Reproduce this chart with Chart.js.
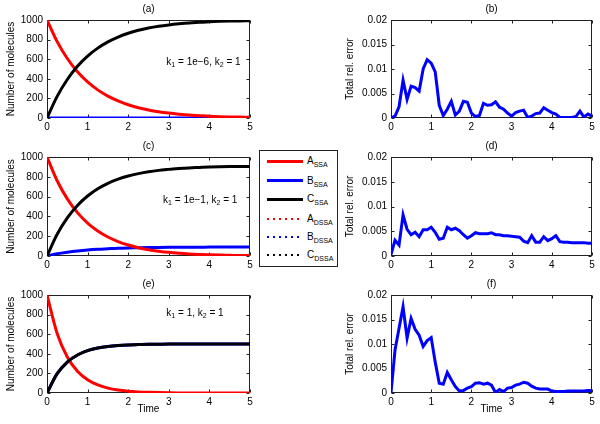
<!DOCTYPE html>
<html>
<head>
<meta charset="utf-8">
<script src="https://cdn.jsdelivr.net/npm/chart.js@4"></script>
<style>
body { margin: 0; background: #fff; width: 600px; height: 424px; overflow: hidden; position: relative; font-family: "Liberation Sans", Arial, sans-serif; }
canvas { position: absolute; }
#legend { position: absolute; left: 259px; top: 150px; width: 77px; height: 115px; border: 1px solid #222; background: #fff; }
.item { position: absolute; left: 7px; height: 14px; width: 70px; font-size: 10px; line-height: 14px; }
.item .line { position: absolute; left: 0; width: 36px; }
.item .lbl { position: absolute; left: 40px; top: 0; white-space: nowrap; color: #000; }
.item sub { font-size: 7px; vertical-align: -3px; line-height: 0; }
</style>
</head>
<body>
<canvas id="pa" width="260" height="138" style="left:0px;top:0px"></canvas>
<canvas id="pb" width="260" height="138" style="left:340px;top:0px"></canvas>
<canvas id="pc" width="260" height="139" style="left:0px;top:137px"></canvas>
<canvas id="pd" width="260" height="139" style="left:340px;top:137px"></canvas>
<canvas id="pe" width="260" height="149" style="left:0px;top:275px"></canvas>
<canvas id="pf" width="260" height="149" style="left:340px;top:275px"></canvas>
<div id="legend"></div>
<script>
// time grids
const tCurve = [0, 0.25, 0.5, 0.75, 1, 1.25, 1.5, 1.75, 2, 2.25, 2.5, 2.75, 3, 3.25, 3.5, 3.75, 4, 4.25, 4.5, 4.75, 5]
const tErr = [0, 0.1, 0.2, 0.3, 0.4, 0.5, 0.6, 0.7, 0.8, 0.9,
    1, 1.1, 1.2, 1.3, 1.4, 1.5, 1.6, 1.7, 1.8, 1.9,
    2, 2.1, 2.2, 2.3, 2.4, 2.5, 2.6, 2.7, 2.8, 2.9,
    3, 3.1, 3.2, 3.3, 3.4, 3.5, 3.6, 3.7, 3.8, 3.9,
    4, 4.1, 4.2, 4.3, 4.4, 4.5, 4.6, 4.7, 4.8, 4.9, 5]

// (a) k1 = 1e-6, k2 = 1
const a_A = [1000, 779, 607, 472, 368, 287, 223, 174, 135, 105, 82, 64, 50, 39, 30, 24, 18, 14, 11, 9, 7]
const a_B = [0, 0, 0, 0, 0, 0, 0, 0, 0, 0, 0, 0, 0, 0, 0, 0, 0, 0, 0, 0, 0]
const a_C = [0, 221, 393, 528, 632, 713, 777, 826, 865, 895, 918, 936, 950, 961, 970, 976, 982, 986, 989, 991, 993]

// (c) k1 = 1e-1, k2 = 1
const c_A = [1000, 760, 577, 438, 333, 253, 192, 146, 111, 84, 64, 49, 37, 28, 21, 16, 12, 9, 7, 5, 4]
const c_B = [0, 22, 38, 51, 61, 68, 73, 78, 81, 83, 85, 87, 88, 88, 89, 89, 90, 90, 90, 91, 91]
const c_C = [0, 219, 385, 511, 606, 679, 734, 776, 808, 832, 851, 865, 875, 884, 890, 894, 898, 901, 903, 904, 905]

// (e) k1 = 1, k2 = 1
const e_A = [1000, 607, 368, 223, 135, 82, 50, 30, 18, 11, 7, 4, 2, 1, 1, 1, 0, 0, 0, 0, 0]
const e_B = [0, 197, 316, 388, 432, 459, 475, 485, 491, 494, 497, 498, 499, 499, 500, 500, 500, 500, 500, 500, 500]
const e_C = [0, 197, 316, 388, 432, 459, 475, 485, 491, 494, 497, 498, 499, 499, 500, 500, 500, 500, 500, 500, 500]

// total relative errors
const b_err = [0, 0.0004, 0.0023, 0.0077, 0.0038, 0.0065, 0.0062, 0.0055, 0.0100, 0.0119,
    0.0112, 0.0094, 0.0026, 0.0005, 0.0018, 0.0034, 0.0006, 0.0014, 0.0034, 0.0032,
    0.0010, 0.0003, 0.0005, 0.0030, 0.0026, 0.0027, 0.0033, 0.0022, 0.0018, 0.0010,
    0.0004, 0.0011, 0.0014, 0.0016, 0.0001, 0.0004, 0.0009, 0.0010, 0.0021, 0.0016,
    0.0011, 0.0008, 0.0001, 0.0001, 0.0001, 0.0001, 0.0003, 0.0014, 0.0002, 0.0008, 0.0004]
const d_err = [0.0003, 0.0032, 0.0022, 0.0083, 0.0054, 0.0043, 0.0048, 0.0039, 0.0053, 0.0053,
    0.0058, 0.0048, 0.0034, 0.0036, 0.0058, 0.0053, 0.0056, 0.0051, 0.0043, 0.0036,
    0.0041, 0.0047, 0.0045, 0.0045, 0.0045, 0.0047, 0.0043, 0.0043, 0.0041, 0.0041,
    0.0040, 0.0039, 0.0038, 0.0030, 0.0027, 0.0041, 0.0028, 0.0028, 0.0039, 0.0031,
    0.0035, 0.0041, 0.0029, 0.0028, 0.0028, 0.0027, 0.0027, 0.0027, 0.0027, 0.0026, 0.0026]
const f_err = [0, 0.0088, 0.0132, 0.0176, 0.0112, 0.0152, 0.0130, 0.0118, 0.0095, 0.0107,
    0.0113, 0.0063, 0.0020, 0.0018, 0.0042, 0.0027, 0.0013, 0.0004, 0.0005, 0.0010,
    0.0013, 0.0020, 0.0021, 0.0018, 0.0020, 0.0016, 0.0001, 0.0007, 0.0003, 0.0010,
    0.0011, 0.0016, 0.0018, 0.0022, 0.0020, 0.0014, 0.0010, 0.0008, 0.0008, 0.0008,
    0.0004, 0.0003, 0.0003, 0.0003, 0.0004, 0.0004, 0.0004, 0.0004, 0.0004, 0.0005, 0.0005]

// ticks
const timeTicks = [0, 1, 2, 3, 4, 5]
const countTicks = [0, 200, 400, 600, 800, 1000]
const errTicks = [0, 0.005, 0.01, 0.015, 0.02]

// legend
const legendNames = ['A', 'B', 'C', 'A', 'B', 'C']
const legendSubs = ['SSA', 'SSA', 'SSA', 'DSSA', 'DSSA', 'DSSA']

const RED = '#ff0000', BLUE = '#0000ff', BLACK = '#000000'
const FONT = '"Liberation Sans", Arial, sans-serif'

const boxPlugin = {
    id: 'box',
    beforeDatasetsDraw(chart)
    {
        const {ctx, chartArea: a, scales: {x, y}} = chart
        const l = Math.round(a.left) + 0.5, r = Math.round(a.right) - 0.5
        const t = Math.round(a.top) + 0.5, b = Math.round(a.bottom) - 0.5
        ctx.save()
        ctx.strokeStyle = '#222'
        ctx.lineWidth = 1
        ctx.strokeRect(l, t, r - l, b - t)
        ctx.beginPath()
        x.ticks.forEach(tk => {
            const px = Math.round(x.getPixelForValue(tk.value)) + 0.5
            ctx.moveTo(px, b); ctx.lineTo(px, b - 3)
            ctx.moveTo(px, t); ctx.lineTo(px, t + 3)
        })
        y.ticks.forEach(tk => {
            const py = Math.round(y.getPixelForValue(tk.value)) + 0.5
            ctx.moveTo(l, py); ctx.lineTo(l + 3, py)
            ctx.moveTo(r, py); ctx.lineTo(r - 3, py)
        })
        ctx.stroke()
        ctx.restore()
    }
}

const notePlugin = {
    id: 'note',
    afterDatasetsDraw(chart, args, opts)
    {
        if (!opts.parts)
            return
        const {ctx, scales: {x, y}} = chart
        let px = x.getPixelForValue(opts.at[0])
        const py = y.getPixelForValue(opts.at[1])
        ctx.save()
        ctx.fillStyle = '#000'
        ctx.textBaseline = 'middle'
        opts.parts.forEach(([txt, sub]) => {
            ctx.font = (sub ? '7px ' : '10px ') + FONT
            ctx.fillText(txt, px, sub ? py + 3 : py)
            px += ctx.measureText(txt).width
        })
        ctx.restore()
    }
}

function pts(xs, ys)
{
    return ys.map((v, i) => ({x: xs[i], y: v}))
}

function setTicks(values)
{
    return scale => { scale.ticks = values.map(v => ({value: v})) }
}

function make_panel(id, p)
{
    const ctx = document.getElementById(id).getContext('2d')
    const left = p.col === 0
    return new Chart(ctx, {
        type: 'line',
        data: {
            datasets: p.series.map(s => ({
                data: pts(s.t, s.v),
                borderColor: s.color,
                borderWidth: 3,
                pointRadius: 0,
                fill: false,
                tension: s.smooth ? 0.4 : 0,
                cubicInterpolationMode: s.smooth ? 'monotone' : 'default',
                order: s.order || 0
            }))
        },
        plugins: [boxPlugin, notePlugin],
        options: {
            responsive: false,
            animation: false,
            events: [],
            layout: {padding: {left: 0, right: left ? 10 : 8, top: 0, bottom: 0}},
            plugins: {
                legend: {display: false},
                tooltip: {enabled: false},
                title: {
                    display: true, text: p.title, fullSize: false, color: '#000',
                    font: {family: FONT, size: 10, weight: 'normal', lineHeight: 1},
                    padding: {top: 4, bottom: 6}
                },
                note: p.note || {}
            },
            scales: {
                x: {
                    type: 'linear', min: 0, max: 5,
                    grid: {display: false, drawTicks: false}, border: {display: false},
                    ticks: {color: '#000', font: {family: FONT, size: 10}, padding: 3, maxRotation: 0, callback: v => String(v)},
                    afterBuildTicks: setTicks(timeTicks),
                    title: p.xTitle ? {display: true, text: p.xTitle, color: '#000', font: {family: FONT, size: 10}, padding: {top: 0, bottom: 9}} : {display: false},
                    afterFit: s => { s.height = p.xTitle ? 31 : 20 }
                },
                y: {
                    type: 'linear', min: 0, max: p.yMax,
                    grid: {display: false, drawTicks: false}, border: {display: false},
                    ticks: {color: '#000', font: {family: FONT, size: 10}, padding: 4, callback: v => String(v)},
                    afterBuildTicks: setTicks(p.yTicks),
                    title: {display: true, text: p.yTitle, color: '#000', font: {family: FONT, size: 10, lineHeight: 1}, padding: {top: left ? 6 : 5, bottom: 0}},
                    afterFit: s => { s.width = left ? 47 : 51 }
                }
            }
        }
    })
}

function curves(A, B, C)
{
    return [
        {t: tCurve, v: C, color: BLACK, smooth: true, order: 1},
        {t: tCurve, v: A, color: RED, smooth: true, order: 2},
        {t: tCurve, v: B, color: BLUE, smooth: true, order: 3}
    ]
}

function countPanel(title, A, B, C, note, xTitle)
{
    return {col: 0, title: title, yMax: 1000, yTicks: countTicks, yTitle: 'Number of molecules', series: curves(A, B, C), note: note, xTitle: xTitle}
}

function errPanel(title, err, xTitle)
{
    return {col: 1, title: title, yMax: 0.02, yTicks: errTicks, yTitle: 'Total rel. error', series: [{t: tErr, v: err, color: BLUE}], xTitle: xTitle}
}

function load_legend()
{
    const colors = [RED, BLUE, BLACK, RED, BLUE, BLACK]
    const tops = [3, 22.7, 41.3, 60.7, 79.3, 97.3]
    const box = document.getElementById('legend')
    legendNames.forEach((n, i) => {
        const dotted = i >= 3
        const c = colors[i]
        const line = dotted
            ? `<div class="line" style="top:6px;height:2px;background:repeating-linear-gradient(90deg, ${c} 0 2px, transparent 2px 6px)"></div>`
            : `<div class="line" style="top:5.5px;height:3px;background:${c}"></div>`
        box.innerHTML += `<div class="item" style="top:${tops[i]}px">${line}<span class="lbl">${n}<sub>${legendSubs[i]}</sub></span></div>`
    })
}

function init()
{
    make_panel('pa', countPanel('(a)', a_A, a_B, a_C,
        {at: [2.94, 571], parts: [['k', 0], ['1', 1], [' = 1e\u22126, k', 0], ['2', 1], [' = 1', 0]]}))
    make_panel('pb', errPanel('(b)', b_err))
    make_panel('pc', countPanel('(c)', c_A, c_B, c_C,
        {at: [2.86, 566], parts: [['k', 0], ['1', 1], [' = 1e\u22121, k', 0], ['2', 1], [' = 1', 0]]}))
    make_panel('pd', errPanel('(d)', d_err))
    make_panel('pe', countPanel('(e)', e_A, e_B, e_C,
        {at: [2.94, 816], parts: [['k', 0], ['1', 1], [' = 1, k', 0], ['2', 1], [' = 1', 0]]}, 'Time'))
    make_panel('pf', errPanel('(f)', f_err, 'Time'))
    load_legend()
}

init()
</script>
</body>
</html>
